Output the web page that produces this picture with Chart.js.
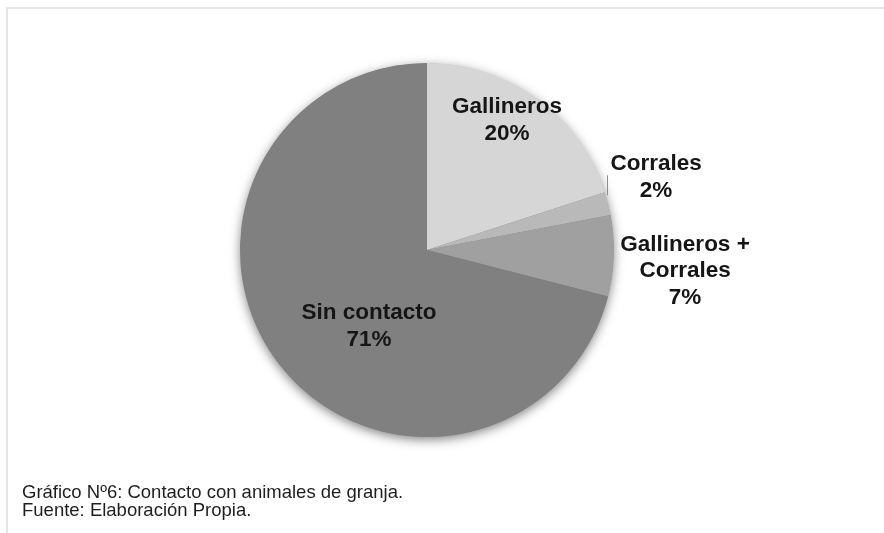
<!DOCTYPE html>
<html lang="es">
<head>
<meta charset="utf-8">
<script src="https://cdn.jsdelivr.net/npm/chart.js@4"></script>
<style>
  html, body { margin: 0; padding: 0; background: #fff; }
  #wrap { position: relative; width: 884px; height: 533px; overflow: hidden; }
  #frame {
    position: absolute; left: 6px; top: 7px; width: 900px; height: 540px;
    border-top: 2px solid #e6e6e6; border-left: 2px solid #e6e6e6;
  }
  #chartBox { position: absolute; left: 0; top: 0; width: 884px; height: 533px; }
  #caption {
    position: absolute; left: 22px; top: 483px;
    font: 18.5px "Liberation Sans", Arial, sans-serif; line-height: 18px; color: #1e1e1e;
  }
</style>
</head>
<body>
<div id="wrap">
  <div id="frame"></div>
  <div id="chartBox"><canvas id="chartAnimales"></canvas></div>
  <div id="caption">Gráfico Nº6: Contacto con animales de granja.<br>Fuente: Elaboración Propia.</div>
</div>
<script>
const categorias = ["Gallineros", "Corrales", "Gallineros + Corrales", "Sin contacto"];
const porcentajes = [20, 2, 7, 71];
const etiquetas = [["Gallineros", "20%"], ["Corrales", "2%"], ["Gallineros +", "Corrales", "7%"], ["Sin contacto", "71%"]];
const grises = ["#d6d6d6", "#b9b9b9", "#a0a0a0", "#808080"];

// posicion de cada etiqueta, relativa al centro y en radios
const posEtiquetas = [[0.428, -0.693], [1.225, -0.39], [1.38, 0.112], [-0.31, 0.409]];

// sombra suave bajo el circulo
const sombra = {
  id: "sombra",
  beforeDatasetsDraw(chart) {
    const arc = chart.getDatasetMeta(0).data[0];
    if (!arc) return;
    const ctx = chart.ctx;
    ctx.save();
    ctx.shadowColor = "rgba(0,0,0,0.5)";
    ctx.shadowBlur = 11;
    ctx.shadowOffsetY = 3;
    ctx.fillStyle = "#808080";
    ctx.beginPath();
    ctx.arc(arc.x, arc.y, arc.outerRadius - 0.5, 0, Math.PI * 2);
    ctx.fill();
    ctx.restore();
  },
};

const rotulos = {
  id: "rotulos",
  afterDatasetsDraw(chart) {
    const ctx = chart.ctx;
    const arcs = chart.getDatasetMeta(0).data;
    ctx.save();
    ctx.font = "bold 22.5px 'Liberation Sans', Arial, sans-serif";
    ctx.fillStyle = "#151515";
    ctx.textAlign = "center";
    ctx.textBaseline = "middle";
    const lh = 26.5;
    arcs.forEach((arc, i) => {
      const r = arc.outerRadius;
      const cx = arc.x + posEtiquetas[i][0] * r;
      const cy = arc.y + posEtiquetas[i][1] * r;
      const lineas = etiquetas[i];
      const y0 = cy - ((lineas.length - 1) * lh) / 2;
      lineas.forEach((t, k) => ctx.fillText(t, cx, y0 + k * lh));
    });

    // linea guia de "Corrales"
    const c = arcs[1];
    const a = c.startAngle + (c.endAngle - c.startAngle) * 0.15;
    const ex = c.x + Math.cos(a) * (c.outerRadius + 1);
    const ey = c.y + Math.sin(a) * (c.outerRadius + 1);
    ctx.strokeStyle = "#8c8c8c";
    ctx.lineWidth = 1;
    ctx.beginPath();
    ctx.moveTo(Math.round(ex) + 0.5, ey);
    ctx.lineTo(Math.round(ex) + 0.5, ey - 20);
    ctx.stroke();
    ctx.restore();
  },
};

new Chart(document.getElementById("chartAnimales"), {
  type: "pie",
  data: {
    labels: categorias,
    datasets: [
      {
        data: porcentajes,
        backgroundColor: grises,
        borderWidth: 0,
      },
    ],
  },
  options: {
    responsive: true,
    maintainAspectRatio: false,
    animation: false,
    layout: { padding: { top: 63, bottom: 96, left: 240, right: 270 } },
    plugins: {
      legend: { display: false },
      tooltip: { enabled: false },
    },
  },
  plugins: [sombra, rotulos],
});
</script>
</body>
</html>
